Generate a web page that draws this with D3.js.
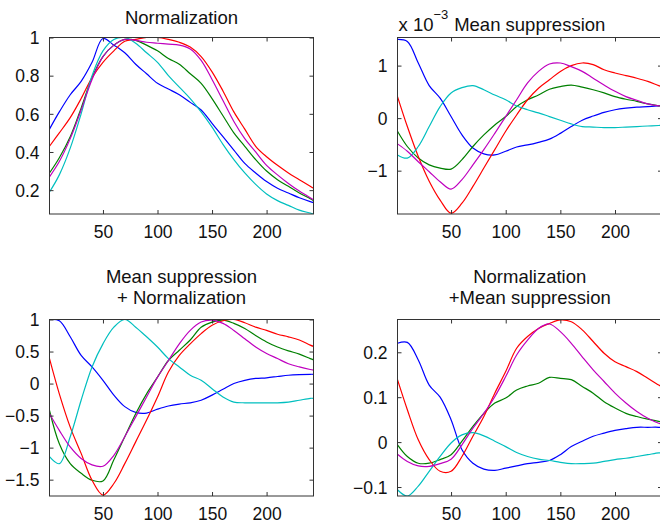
<!DOCTYPE html>
<html>
<head>
<meta charset="utf-8">
<script src="https://cdn.jsdelivr.net/npm/d3@7"></script>
<style>
  html, body { margin: 0; padding: 0; background: #fff; }
  svg { display: block; }
  text { font-family: "Liberation Sans", Arial, Helvetica, sans-serif; fill: #111; }
</style>
</head>
<body>
<svg id="chart" width="660" height="524"></svg>
<script>
// Sample positions along the horizontal axis (shared by every curve)
const sampleX = [1, 10, 20, 30, 40, 50, 60, 70, 80, 90, 100, 110, 120, 130, 140, 150, 160, 170, 180, 190, 200, 210, 220, 230, 240, 243];

// Panel 1: Normalization
const normBlue    = [0.52, 0.61, 0.70, 0.77, 0.87, 0.995, 0.96, 0.92, 0.86, 0.81, 0.76, 0.73, 0.70, 0.66, 0.62, 0.55, 0.48, 0.41, 0.34, 0.29, 0.245, 0.21, 0.185, 0.16, 0.14, 0.135];
const normGreen   = [0.29, 0.37, 0.48, 0.63, 0.79, 0.90, 0.96, 0.99, 0.985, 0.96, 0.93, 0.89, 0.86, 0.81, 0.76, 0.68, 0.59, 0.50, 0.43, 0.36, 0.30, 0.255, 0.22, 0.185, 0.155, 0.145];
const normRed     = [0.43, 0.50, 0.58, 0.68, 0.79, 0.87, 0.93, 0.98, 0.99, 1.00, 1.00, 0.99, 0.975, 0.95, 0.90, 0.82, 0.72, 0.61, 0.52, 0.43, 0.375, 0.33, 0.29, 0.255, 0.22, 0.21];
const normCyan    = [0.19, 0.28, 0.42, 0.60, 0.80, 0.93, 0.99, 1.00, 0.97, 0.92, 0.87, 0.80, 0.74, 0.68, 0.61, 0.53, 0.44, 0.36, 0.29, 0.23, 0.18, 0.145, 0.12, 0.095, 0.08, 0.075];
const normMagenta = [0.27, 0.35, 0.47, 0.62, 0.78, 0.90, 0.96, 0.99, 0.985, 0.975, 0.97, 0.965, 0.96, 0.94, 0.88, 0.78, 0.67, 0.56, 0.47, 0.40, 0.33, 0.28, 0.235, 0.195, 0.16, 0.15];

// Panel 2: Mean suppression (values in units of 1e-3)
const meanBlue    = [1.50, 1.46, 1.05, 0.62, 0.38, 0.03, -0.32, -0.57, -0.68, -0.70, -0.63, -0.55, -0.51, -0.46, -0.40, -0.29, -0.16, -0.04, 0.04, 0.11, 0.16, 0.19, 0.21, 0.22, 0.235, 0.24];
const meanGreen   = [-0.25, -0.54, -0.76, -0.89, -0.95, -0.97, -0.79, -0.54, -0.32, -0.13, 0.03, 0.22, 0.35, 0.44, 0.55, 0.60, 0.63, 0.59, 0.54, 0.48, 0.41, 0.36, 0.32, 0.27, 0.235, 0.23];
const meanRed     = [0.41, -0.16, -0.73, -1.20, -1.56, -1.81, -1.62, -1.30, -0.95, -0.60, -0.25, 0.06, 0.35, 0.57, 0.73, 0.89, 1.00, 1.05, 1.02, 0.92, 0.86, 0.81, 0.76, 0.70, 0.62, 0.60];
const meanCyan    = [-0.70, -0.76, -0.54, -0.16, 0.22, 0.48, 0.58, 0.62, 0.54, 0.44, 0.35, 0.23, 0.16, 0.10, 0.03, -0.04, -0.11, -0.16, -0.17, -0.18, -0.18, -0.17, -0.16, -0.15, -0.14, -0.14];
const meanMagenta = [-0.49, -0.63, -0.83, -1.02, -1.21, -1.35, -1.17, -0.89, -0.60, -0.29, 0.03, 0.35, 0.67, 0.89, 1.03, 1.05, 0.98, 0.89, 0.76, 0.63, 0.51, 0.41, 0.34, 0.27, 0.235, 0.23];

// Panel 3: Mean suppression + Normalization
const mnBlue    = [1.00, 0.98, 0.73, 0.44, 0.26, 0.05, -0.18, -0.36, -0.45, -0.46, -0.40, -0.35, -0.32, -0.30, -0.26, -0.18, -0.09, 0.00, 0.05, 0.08, 0.09, 0.11, 0.13, 0.14, 0.145, 0.145];
const mnGreen   = [-0.42, -0.94, -1.25, -1.40, -1.51, -1.52, -1.19, -0.83, -0.47, -0.16, 0.10, 0.36, 0.52, 0.68, 0.88, 0.96, 0.99, 0.94, 0.86, 0.75, 0.65, 0.57, 0.51, 0.46, 0.39, 0.37];
const mnRed     = [0.39, -0.16, -0.68, -1.09, -1.51, -1.74, -1.56, -1.25, -0.91, -0.57, -0.21, 0.18, 0.44, 0.62, 0.78, 0.91, 0.98, 1.00, 0.95, 0.88, 0.83, 0.77, 0.73, 0.68, 0.60, 0.58];
const mnCyan    = [-1.14, -1.25, -0.83, -0.26, 0.26, 0.62, 0.88, 1.00, 0.88, 0.73, 0.57, 0.39, 0.26, 0.13, 0.05, -0.08, -0.21, -0.29, -0.30, -0.30, -0.30, -0.30, -0.29, -0.26, -0.23, -0.23];
const mnMagenta = [-0.47, -0.73, -0.99, -1.17, -1.27, -1.29, -1.12, -0.83, -0.52, -0.21, 0.10, 0.36, 0.62, 0.83, 0.96, 0.99, 0.94, 0.83, 0.70, 0.57, 0.47, 0.39, 0.31, 0.26, 0.22, 0.21];

// Panel 4: Normalization + Mean suppression
const nmBlue    = [0.220, 0.222, 0.183, 0.127, 0.100, 0.050, -0.017, -0.047, -0.060, -0.063, -0.058, -0.053, -0.048, -0.045, -0.041, -0.028, -0.010, 0.002, 0.013, 0.020, 0.026, 0.030, 0.033, 0.033, 0.033, 0.032];
const nmGreen   = [-0.006, -0.032, -0.047, -0.047, -0.039, -0.028, 0.002, 0.035, 0.064, 0.087, 0.098, 0.116, 0.125, 0.131, 0.144, 0.142, 0.139, 0.124, 0.109, 0.090, 0.076, 0.064, 0.057, 0.051, 0.046, 0.045];
const nmRed     = [0.139, 0.072, 0.005, -0.039, -0.065, -0.065, -0.032, 0.013, 0.057, 0.109, 0.157, 0.209, 0.235, 0.253, 0.264, 0.272, 0.268, 0.250, 0.224, 0.198, 0.179, 0.168, 0.157, 0.142, 0.127, 0.123];
const nmCyan    = [-0.106, -0.120, -0.098, -0.065, -0.032, -0.002, 0.016, 0.021, 0.014, 0.002, -0.010, -0.023, -0.032, -0.038, -0.041, -0.045, -0.048, -0.048, -0.047, -0.043, -0.039, -0.036, -0.032, -0.028, -0.024, -0.024];
const nmMagenta = [-0.027, -0.043, -0.053, -0.054, -0.048, -0.038, -0.006, 0.031, 0.064, 0.101, 0.146, 0.194, 0.227, 0.253, 0.263, 0.246, 0.220, 0.190, 0.161, 0.135, 0.109, 0.087, 0.068, 0.053, 0.042, 0.040];

// Tick values
const xTicks = [50, 100, 150, 200];
const normTicks = [0.2, 0.4, 0.6, 0.8, 1];
const meanTicks = [-1, 0, 1];
const mnTicks = [-1.5, -1, -0.5, 0, 0.5, 1];
const nmTicks = [-0.1, 0, 0.1, 0.2];

// Line colours, in plotting order
const colors = ["#0000ff", "#008000", "#ff0000", "#00bfbf", "#bf00bf"];

const panels = [
  { box: [49.5, 37.5, 313.5, 214], yDomain: [0.075, 1], yTicks: normTicks,
    series: [normBlue, normGreen, normRed, normCyan, normMagenta], title: ["Normalization"] },
  { box: [397.5, 37.5, 662, 214], yDomain: [-1.825, 1.535], yTicks: meanTicks,
    series: [meanBlue, meanGreen, meanRed, meanCyan, meanMagenta], title: ["Mean suppression"], exponent: -3 },
  { box: [49.5, 319.5, 313.5, 496], yDomain: [-1.755, 1], yTicks: mnTicks,
    series: [mnBlue, mnGreen, mnRed, mnCyan, mnMagenta], title: ["Mean suppression", "+ Normalization"] },
  { box: [397.5, 319.5, 662, 496], yDomain: [-0.12, 0.273], yTicks: nmTicks,
    series: [nmBlue, nmGreen, nmRed, nmCyan, nmMagenta], title: ["Normalization", "+Mean suppression"] }
];

const svg = d3.select("#chart");
const fmt = v => String(v).replace("-", "\u2212");
const fontSize = 17.5;
const titleSize = 18.5;
const tickLen = 4;

panels.forEach((p, i) => {
  const [x0, y0, x1, y1] = p.box;
  const x = d3.scaleLinear().domain([1, 243]).range([x0, x1]);
  const y = d3.scaleLinear().domain(p.yDomain).range([y1, y0]);
  const g = svg.append("g");

  const clipId = "clip" + i;
  g.append("clipPath").attr("id", clipId)
    .append("rect").attr("x", x0).attr("y", y0).attr("width", x1 - x0).attr("height", y1 - y0);

  const line = d3.line()
    .x((d, k) => x(sampleX[k]))
    .y(d => y(d))
    .curve(d3.curveCatmullRom.alpha(0.5));

  g.append("g").attr("clip-path", `url(#${clipId})`)
    .selectAll("path").data(p.series).join("path")
    .attr("d", line)
    .attr("fill", "none")
    .attr("stroke", (d, k) => colors[k])
    .attr("stroke-width", 1.2)
    .attr("stroke-linejoin", "round");

  // Axes: bottom/left with labels, top/right mirrored, ticks pointing inward
  const axB = d3.axisBottom(x).tickValues(xTicks).tickSizeInner(-tickLen).tickSizeOuter(0).tickPadding(12).tickFormat(fmt);
  const axT = d3.axisTop(x).tickValues(xTicks).tickSizeInner(-tickLen).tickSizeOuter(0).tickFormat("");
  const axL = d3.axisLeft(y).tickValues(p.yTicks).tickSizeInner(-tickLen).tickSizeOuter(0).tickPadding(10).tickFormat(fmt);
  const axR = d3.axisRight(y).tickValues(p.yTicks).tickSizeInner(-tickLen).tickSizeOuter(0).tickFormat("");

  const gb = g.append("g").attr("transform", `translate(0,${y1})`).call(axB);
  const gt = g.append("g").attr("transform", `translate(0,${y0})`).call(axT);
  const gl = g.append("g").attr("transform", `translate(${x0},0)`).call(axL);
  const gr = g.append("g").attr("transform", `translate(${x1},0)`).call(axR);

  [gb, gt, gl, gr].forEach(a => {
    a.selectAll(".domain").remove();
    a.selectAll(".tick line").attr("stroke", "#333").attr("stroke-width", 1);
    a.selectAll("text").attr("font-size", fontSize).attr("font-family", null).attr("fill", "#111");
  });
  gb.selectAll("text").attr("dy", null).attr("y", 24).attr("dominant-baseline", null);
  gl.selectAll("text").attr("dy", "0.36em");

  g.append("rect")
    .attr("x", x0).attr("y", y0).attr("width", x1 - x0).attr("height", y1 - y0)
    .attr("fill", "none").attr("stroke", "#333").attr("stroke-width", 1);

  // Titles
  const cx = (x0 + x1) / 2;
  if (p.title.length === 1) {
    g.append("text").attr("x", cx).attr("y", p.exponent ? 30.5 : 24)
      .attr("text-anchor", "middle").attr("font-size", titleSize).text(p.title[0]);
  } else {
    p.title.forEach((t, k) => {
      g.append("text").attr("x", cx).attr("y", y0 - 37 + k * 21.5)
        .attr("text-anchor", "middle").attr("font-size", titleSize).text(t);
    });
  }
  if (p.exponent) {
    const e = g.append("text").attr("x", x0 + 1).attr("y", 30.5).attr("font-size", titleSize);
    e.append("tspan").text("x 10");
    e.append("tspan").attr("dy", -12).attr("font-size", 13).text("\u2212" + Math.abs(p.exponent));
  }
});
</script>
</body>
</html>
